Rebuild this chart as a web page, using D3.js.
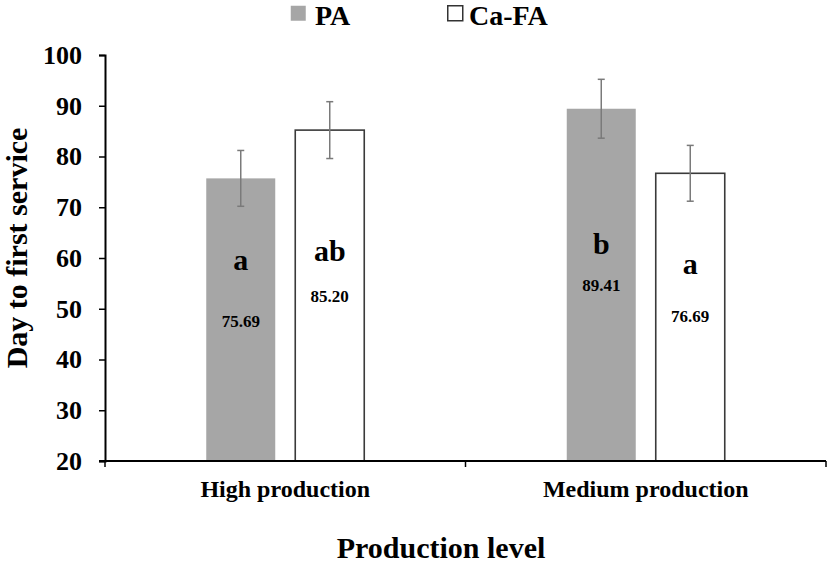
<!DOCTYPE html>
<html>
<head>
<meta charset="utf-8">
<script src="https://cdn.jsdelivr.net/npm/d3@7"></script>
<style>
  html, body { margin: 0; padding: 0; background: #fff; }
  svg { display: block; font-family: "Liberation Serif", "Times New Roman", serif; font-weight: bold; }
</style>
</head>
<body>
<svg id="chart" width="827" height="565"></svg>
<script>
// ---- data ----
const categories = ["High production", "Medium production"];
const seriesNames = ["PA", "Ca-FA"];
const paValues = [75.69, 89.41];
const caFaValues = [85.20, 76.69];
const paErrors = [5.5, 5.8];
const caFaErrors = [5.6, 5.5];
const paLetters = ["a", "b"];
const caFaLetters = ["ab", "a"];
const yTicks = [20, 30, 40, 50, 60, 70, 80, 90, 100];

// label anchors (in y-axis units), manually placed in the original figure
const labelLayout = {
  PA:     { letter: [57.6, 60.8], value: [46.4, 53.5] },
  "Ca-FA":{ letter: [59.4, 56.8], value: [51.3, 47.4] }
};

const seriesData = [
  { name: "PA", values: paValues, errors: paErrors, letters: paLetters, fill: "#a6a6a6", stroke: "none" },
  { name: "Ca-FA", values: caFaValues, errors: caFaErrors, letters: caFaLetters, fill: "#ffffff", stroke: "#3a3a3a" }
];

(function () {
const svg = d3.select("#chart");
const mLeft = 105, mRight = 826, mTop = 55, mBottom = 461;

const x0 = d3.scaleBand().domain(categories).range([mLeft, mRight]).padding(0);
const y = d3.scaleLinear().domain([20, 100]).range([mBottom, mTop]);
const groupHalf = 79;
const x1 = d3.scaleBand().domain(seriesNames)
  .range([x0.bandwidth() / 2 - groupHalf, x0.bandwidth() / 2 + groupHalf])
  .paddingInner(0.2247).paddingOuter(0);

// bars
seriesData.forEach(s => {
  const g = svg.append("g");
  categories.forEach((c, i) => {
    const bx = x0(c) + x1(s.name);
    const bw = x1.bandwidth();
    g.append("rect")
      .attr("x", bx).attr("y", y(s.values[i]))
      .attr("width", bw).attr("height", y(20) - y(s.values[i]))
      .attr("fill", s.fill)
      .attr("stroke", s.stroke)
      .attr("stroke-width", s.stroke === "none" ? 0 : 1.6);
    const cx = bx + bw / 2;
    const hi = y(s.values[i] + s.errors[i]), lo = y(s.values[i] - s.errors[i]);
    const eb = g.append("g").attr("stroke", "#7a7a7a").attr("stroke-width", 1.5);
    eb.append("line").attr("x1", cx).attr("x2", cx).attr("y1", hi).attr("y2", lo);
    eb.append("line").attr("x1", cx - 3.5).attr("x2", cx + 3.5).attr("y1", hi).attr("y2", hi);
    eb.append("line").attr("x1", cx - 3.5).attr("x2", cx + 3.5).attr("y1", lo).attr("y2", lo);
    g.append("text")
      .attr("x", cx).attr("y", y(labelLayout[s.name].letter[i]))
      .attr("text-anchor", "middle").attr("font-size", 30).attr("fill", "#000")
      .text(s.letters[i]);
    g.append("text")
      .attr("x", cx).attr("y", y(labelLayout[s.name].value[i]))
      .attr("text-anchor", "middle").attr("font-size", 17).attr("fill", "#000")
      .text(s.values[i].toFixed(2));
  });
});

// y axis
const yAxis = svg.append("g").attr("transform", `translate(${mLeft},0)`)
  .call(d3.axisLeft(y).tickValues(yTicks).tickSize(6).tickPadding(17));
yAxis.selectAll("text").attr("font-size", 26).attr("fill", "#000")
  .attr("font-family", "Liberation Serif, serif").attr("font-weight", "bold");
yAxis.select(".domain").attr("stroke", "#000").attr("stroke-width", 2);
yAxis.selectAll(".tick line").attr("stroke", "#000").attr("stroke-width", 1.5);

// x axis
const xAxisG = svg.append("g").attr("transform", `translate(0,${mBottom})`);
const xEdge = d3.scaleLinear().domain([0, categories.length]).range([mLeft, mRight]);
xAxisG.append("line").attr("x1", mLeft - 6).attr("x2", mRight).attr("y1", 0).attr("y2", 0)
  .attr("stroke", "#000").attr("stroke-width", 2);
d3.range(categories.length + 1).forEach(k => {
  xAxisG.append("line").attr("x1", xEdge(k)).attr("x2", xEdge(k)).attr("y1", 0).attr("y2", 6)
    .attr("stroke", "#000").attr("stroke-width", 1.5);
});
categories.forEach(c => {
  xAxisG.append("text")
    .attr("x", x0(c) + x0.bandwidth() / 2).attr("y", 36)
    .attr("text-anchor", "middle").attr("font-size", 24).attr("fill", "#000")
    .text(c);
});

// axis titles
svg.append("text").attr("x", 441).attr("y", 558)
  .attr("text-anchor", "middle").attr("font-size", 30).attr("fill", "#000")
  .text("Production level");
svg.append("text").attr("transform", "translate(27,248) rotate(-90)")
  .attr("text-anchor", "middle").attr("font-size", 30).attr("fill", "#000")
  .text("Day to first service");

// legend
const legendPos = [290, 447];
seriesData.forEach((s, i) => {
  const lg = svg.append("g").attr("transform", `translate(${legendPos[i]},0)`);
  lg.append("rect").attr("x", 0.75).attr("y", 5.75).attr("width", 15).attr("height", 15)
    .attr("fill", s.fill)
    .attr("stroke", s.stroke === "none" ? "none" : "#333").attr("stroke-width", 1.5);
  lg.append("text").attr("x", i === 0 ? 25 : 22).attr("y", 25)
    .attr("font-size", 28).attr("fill", "#000").text(s.name);
});
})();
</script>
</body>
</html>
